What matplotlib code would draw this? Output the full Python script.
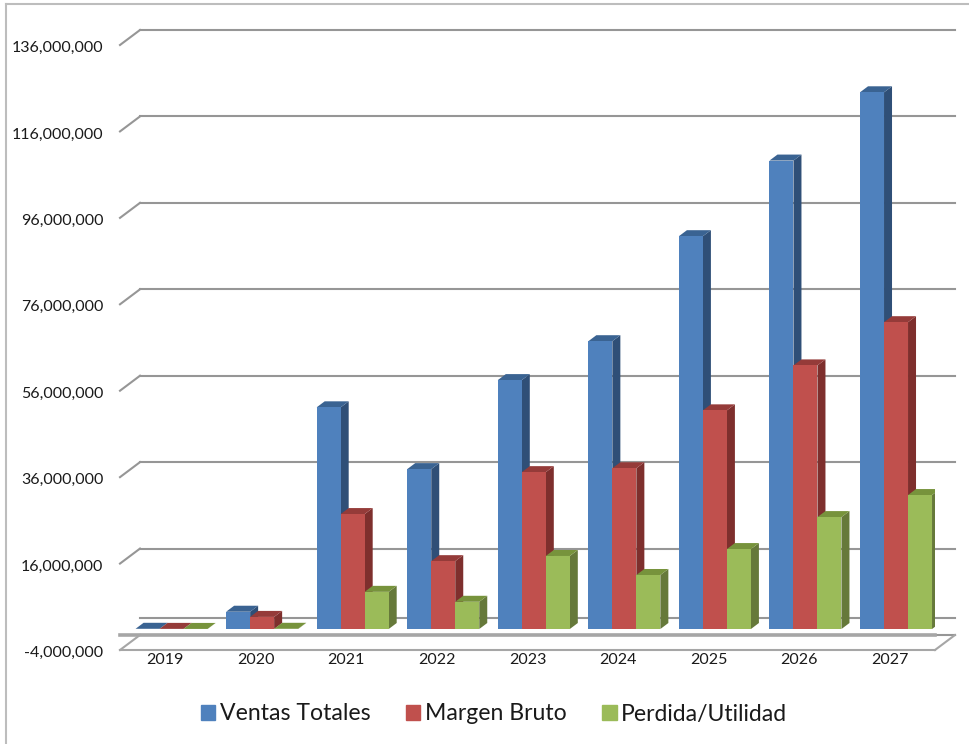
import matplotlib
matplotlib.use('Agg')
import matplotlib.pyplot as plt
from matplotlib.lines import Line2D
from matplotlib.patches import Patch, Polygon
from matplotlib.transforms import ScaledTranslation

years = ['2019', '2020', '2021', '2022', '2023', '2024', '2025', '2026', '2027']
ticks = [-4000000, 16000000, 36000000, 56000000, 76000000, 96000000, 116000000, 136000000]

ventas = [50000, 4000000, 51300000, 37000000, 57600000, 66600000, 90900000, 108400000, 124200000]
margen = [30000, 2800000, 26600000, 15700000, 36300000, 37200000, 50600000, 61000000, 71000000]
perdida = [20000, 50000, 8600000, 6300000, 16900000, 12500000, 18500000, 25900000, 31000000]

series = [ventas, margen, perdida]
names = ['Ventas Totales', 'Margen Bruto', 'Perdida/Utilidad']
front = ['#4F81BD', '#C0504D', '#9BBB59']
side = ['#2F4F77', '#7E2F2D', '#66793A']
top = ['#3A6392', '#953B39', '#77933C']
grid = '#969696'

W, H = 970, 744
plt.rcParams['font.family'] = ['Lato', 'DejaVu Sans']
fig = plt.figure(figsize=(W / 100, H / 100), dpi=100)
ax = fig.add_axes([120 / W, 1 - 650 / H, 815 / W, 605 / H])
ax.set_xlim(-0.5, 8.5)
ax.set_ylim(-4000000, 136000000)

# pixels to data units
px_x = 9 / 815
px_y = 140000000 / 605


def wall(x, y):
    # move a point from the front plane to the back wall
    return x + 20 * px_x, y + 15 * px_y


# grid lines on the back wall, with the short diagonal on the left
for t in ticks:
    bx0, by = wall(-0.5, t)
    bx1, _ = wall(8.5, t)
    ax.plot([bx0, bx1], [by, by], color=grid, lw=1.5, zorder=1, clip_on=False)
    if t > 0:
        ax.plot([-0.5, bx0], [t, by], color=grid, lw=1.5, zorder=1, clip_on=False)

# the line at zero and the floor
bx0, by = wall(-0.5, 0)
bx1, _ = wall(8.5, 0)
ax.plot([bx0, bx1], [by, by], color=grid, lw=1.5, zorder=1, clip_on=False)
ax.plot([-0.5, 8.5], [-4000000, -4000000], color='#A6A6A6', lw=1.5, zorder=1, clip_on=False)
bx0, by = wall(-0.5, -4000000)
bx1, _ = wall(8.5, -4000000)
ax.plot([-0.5, bx0], [-4000000, by], color='#A6A6A6', lw=1.5, zorder=1, clip_on=False)
ax.plot([8.5, bx1], [-4000000, by], color='#A6A6A6', lw=1.5, zorder=1, clip_on=False)
ax.plot([-0.5, 8.5], [-500000, -500000], color='#A6A6A6', lw=2.6, zorder=1, clip_on=False)

# 3d bars
bar_w = 24 * px_x
dx = 8 * px_x
dy = 6 * px_y
shift_x = 6.3 * px_x
base = 3.7 * px_y
z = 3
for k in range(3):
    pos = [i + (k - 1) * bar_w + shift_x for i in range(len(years))]
    for x, v in zip(pos, series[k]):
        x0 = x - bar_w / 2
        x1 = x + bar_w / 2
        y1 = base + v
        ax.add_patch(Polygon([(x1, base), (x1 + dx, base + dy), (x1 + dx, y1 + dy), (x1, y1)],
                             facecolor=side[k], edgecolor='none', zorder=z))
        ax.add_patch(Polygon([(x0, y1), (x0 + dx, y1 + dy), (x1 + dx, y1 + dy), (x1, y1)],
                             facecolor=top[k], edgecolor='none', zorder=z))
    ax.bar(pos, series[k], bar_w, bottom=base, color=front[k], zorder=z + 1)
    z += 2

for s in ax.spines.values():
    s.set_visible(False)
ax.patch.set_alpha(0)
ax.set_xticks(range(len(years)))
ax.set_xticklabels(years, fontsize=11.5, color='#1A1A1A')
ax.set_yticks(ticks)
ax.set_yticklabels([f'{t:,}' for t in ticks], fontsize=11.5, color='#1A1A1A', va='center')
ax.tick_params(axis='x', length=0, pad=2)
ax.tick_params(axis='y', length=0, pad=12)
# labels sit a little below their tick
nudge = ScaledTranslation(0, -3 / 100, fig.dpi_scale_trans)
for lab in ax.get_yticklabels():
    lab.set_transform(lab.get_transform() + nudge)

handles = [Patch(color=c) for c in front]
fig.legend(handles, names, loc='center', bbox_to_anchor=(494 / W, 1 - 714 / H), ncol=3,
           frameon=False, fontsize=16.6, handlelength=0.62, handleheight=0.62,
           handletextpad=0.2, columnspacing=1.55, labelcolor='#1A1A1A')

# outer frame, only left and top show
fig.add_artist(Line2D([6 / W, 6 / W], [0, 1 - 4 / H], color='#BDBDBD', lw=1.5))
fig.add_artist(Line2D([6 / W, 1], [1 - 4 / H, 1 - 4 / H], color='#BDBDBD', lw=1.5))

fig.savefig('out.png', dpi=100)
